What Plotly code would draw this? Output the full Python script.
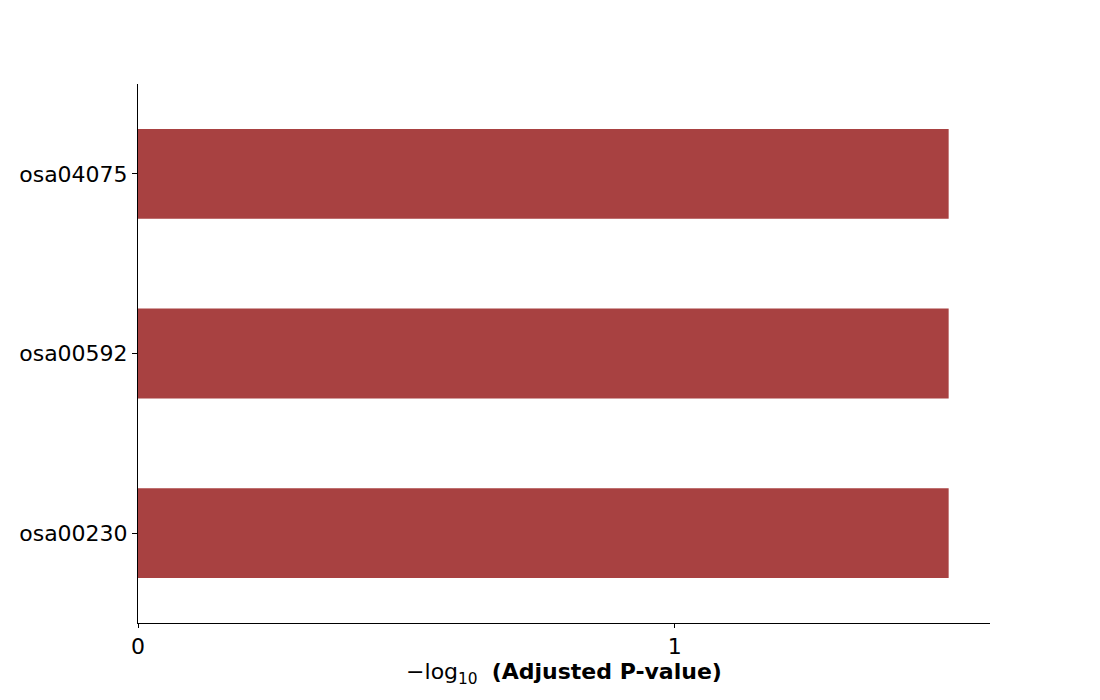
import plotly.graph_objects as go

categories = ["osa00230", "osa00592", "osa04075"]
values = [1.51, 1.51, 1.51]
x_tickvals = [0, 1]
x_ticktext = ["0", "1"]

bar_color = "#a84141"
font_family = "DejaVu Sans"

fig = go.Figure(
    go.Bar(
        x=values,
        y=categories,
        orientation="h",
        width=0.5,
        marker=dict(color=bar_color, line=dict(width=0)),
    )
)

fig.update_layout(
    width=1100,
    height=700,
    margin=dict(l=138, r=110, t=84, b=77),
    paper_bgcolor="white",
    plot_bgcolor="white",
    font=dict(family=font_family, size=22, color="black"),
    showlegend=False,
)

fig.update_xaxes(
    range=[0, 1.587],
    tickvals=x_tickvals,
    ticktext=x_ticktext,
    showgrid=False,
    zeroline=False,
    showline=True,
    linecolor="black",
    linewidth=1,
    ticks="outside",
    ticklen=4,
    tickcolor="black",
    tickfont=dict(size=22),
    title=dict(
        text="−log<sub>10</sub>  <b>(Adjusted P-value)</b>",
        font=dict(size=22),
        standoff=2,
    ),
)

fig.update_yaxes(
    categoryorder="array",
    categoryarray=categories,
    range=[-0.5, 2.5],
    showgrid=False,
    zeroline=False,
    showline=True,
    linecolor="black",
    linewidth=1,
    ticks="outside",
    ticklen=5,
    tickcolor="black",
    tickfont=dict(size=22),
)

fig.write_html("out.html")
